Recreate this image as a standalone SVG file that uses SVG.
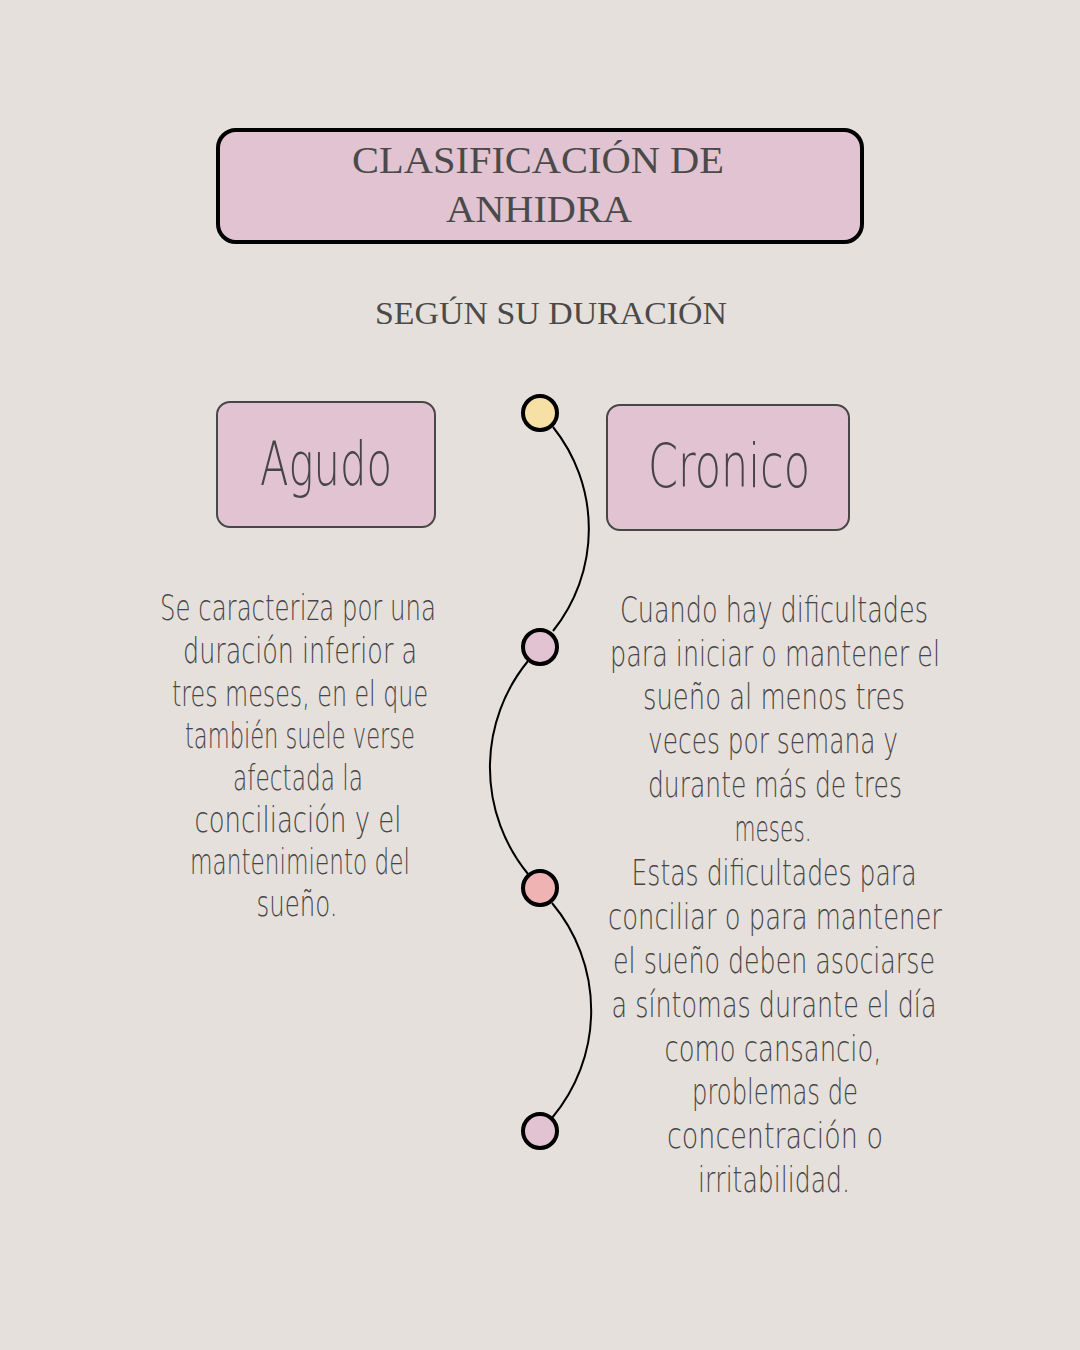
<svg xmlns="http://www.w3.org/2000/svg" width="1080" height="1350" viewBox="0 0 1080 1350">
<style>
.title{font-family:"Liberation Serif","DejaVu Serif",serif;fill:#4a4a4a;text-anchor:middle}
.hand{font-family:"DejaVu Sans","Liberation Sans",sans-serif;font-weight:200;fill:#454545;text-anchor:middle}
.box{fill:#e1c3d1;stroke:#474747;stroke-width:2}
.dot{stroke:#000;stroke-width:4}
.conn{fill:none;stroke:#000;stroke-width:2}
</style>
<rect width="1080" height="1350" fill="#e5e0dc"/>
<g id="title">
<rect x="218" y="130" width="644" height="112" rx="18" fill="#e1c3d1" stroke="#000" stroke-width="4"/>
<text class="title" x="538" y="173" font-size="38" textLength="372" lengthAdjust="spacingAndGlyphs">CLASIFICACIÓN DE</text>
<text class="title" x="539" y="222" font-size="38" textLength="186" lengthAdjust="spacingAndGlyphs">ANHIDRA</text>
</g>
<g id="subtitle">
<text class="title" x="551" y="324" font-size="31" textLength="352" lengthAdjust="spacingAndGlyphs">SEGÚN SU DURACIÓN</text>
</g>
<g id="connectors">
<path class="conn" d="M553,427 A163,163 0 0 1 553,631"/>
<path class="conn" d="M528,661 A168,168 0 0 0 528,874"/>
<path class="conn" d="M552,903 A167,167 0 0 1 552,1118"/>
</g>
<g id="dot1"><circle class="dot" cx="540" cy="413" r="17" fill="#f7e0a5"/></g>
<g id="dot2"><circle class="dot" cx="540" cy="647" r="17" fill="#e1c3d1"/></g>
<g id="dot3"><circle class="dot" cx="540" cy="888" r="17" fill="#efb3b3"/></g>
<g id="dot4"><circle class="dot" cx="540" cy="1131" r="17" fill="#e1c3d1"/></g>
<g id="agudo">
<rect class="box" x="217" y="402" width="218" height="125" rx="13"/>
<text class="hand" x="326" y="485" font-size="60" textLength="132" lengthAdjust="spacingAndGlyphs">Agudo</text>
</g>
<g id="cronico">
<rect class="box" x="607" y="405" width="242" height="125" rx="13"/>
<text class="hand" x="729" y="487" font-size="60" textLength="162" lengthAdjust="spacingAndGlyphs">Cronico</text>
</g>
<g id="agudo-text" font-size="36">
<text class="hand" x="298" y="620" textLength="276" lengthAdjust="spacingAndGlyphs">Se caracteriza por una</text>
<text class="hand" x="300" y="663" textLength="234" lengthAdjust="spacingAndGlyphs">duración inferior a</text>
<text class="hand" x="300" y="706" textLength="256" lengthAdjust="spacingAndGlyphs">tres meses, en el que</text>
<text class="hand" x="300" y="748" textLength="230" lengthAdjust="spacingAndGlyphs">también suele verse</text>
<text class="hand" x="298" y="790" textLength="130" lengthAdjust="spacingAndGlyphs">afectada la</text>
<text class="hand" x="298" y="832" textLength="207" lengthAdjust="spacingAndGlyphs">conciliación y el</text>
<text class="hand" x="300" y="874" textLength="220" lengthAdjust="spacingAndGlyphs">mantenimiento del</text>
<text class="hand" x="297" y="916" textLength="81" lengthAdjust="spacingAndGlyphs">sueño.</text>
</g>
<g id="cronico-text" font-size="36">
<text class="hand" x="774" y="622" textLength="308" lengthAdjust="spacingAndGlyphs">Cuando hay dificultades</text>
<text class="hand" x="775" y="666" textLength="330" lengthAdjust="spacingAndGlyphs">para iniciar o mantener el</text>
<text class="hand" x="774" y="709" textLength="262" lengthAdjust="spacingAndGlyphs">sueño al menos tres</text>
<text class="hand" x="773" y="753" textLength="250" lengthAdjust="spacingAndGlyphs">veces por semana y</text>
<text class="hand" x="775" y="797" textLength="254" lengthAdjust="spacingAndGlyphs">durante más de tres</text>
<text class="hand" x="773" y="841" textLength="77" lengthAdjust="spacingAndGlyphs">meses.</text>
<text class="hand" x="774" y="885" textLength="285" lengthAdjust="spacingAndGlyphs">Estas dificultades para</text>
<text class="hand" x="775" y="929" textLength="334" lengthAdjust="spacingAndGlyphs">conciliar o para mantener</text>
<text class="hand" x="774" y="973" textLength="322" lengthAdjust="spacingAndGlyphs">el sueño deben asociarse</text>
<text class="hand" x="774" y="1017" textLength="325" lengthAdjust="spacingAndGlyphs">a síntomas durante el día</text>
<text class="hand" x="773" y="1061" textLength="217" lengthAdjust="spacingAndGlyphs">como cansancio,</text>
<text class="hand" x="775" y="1104" textLength="166" lengthAdjust="spacingAndGlyphs">problemas de</text>
<text class="hand" x="775" y="1148" textLength="216" lengthAdjust="spacingAndGlyphs">concentración o</text>
<text class="hand" x="774" y="1192" textLength="152" lengthAdjust="spacingAndGlyphs">irritabilidad.</text>
</g>
</svg>
